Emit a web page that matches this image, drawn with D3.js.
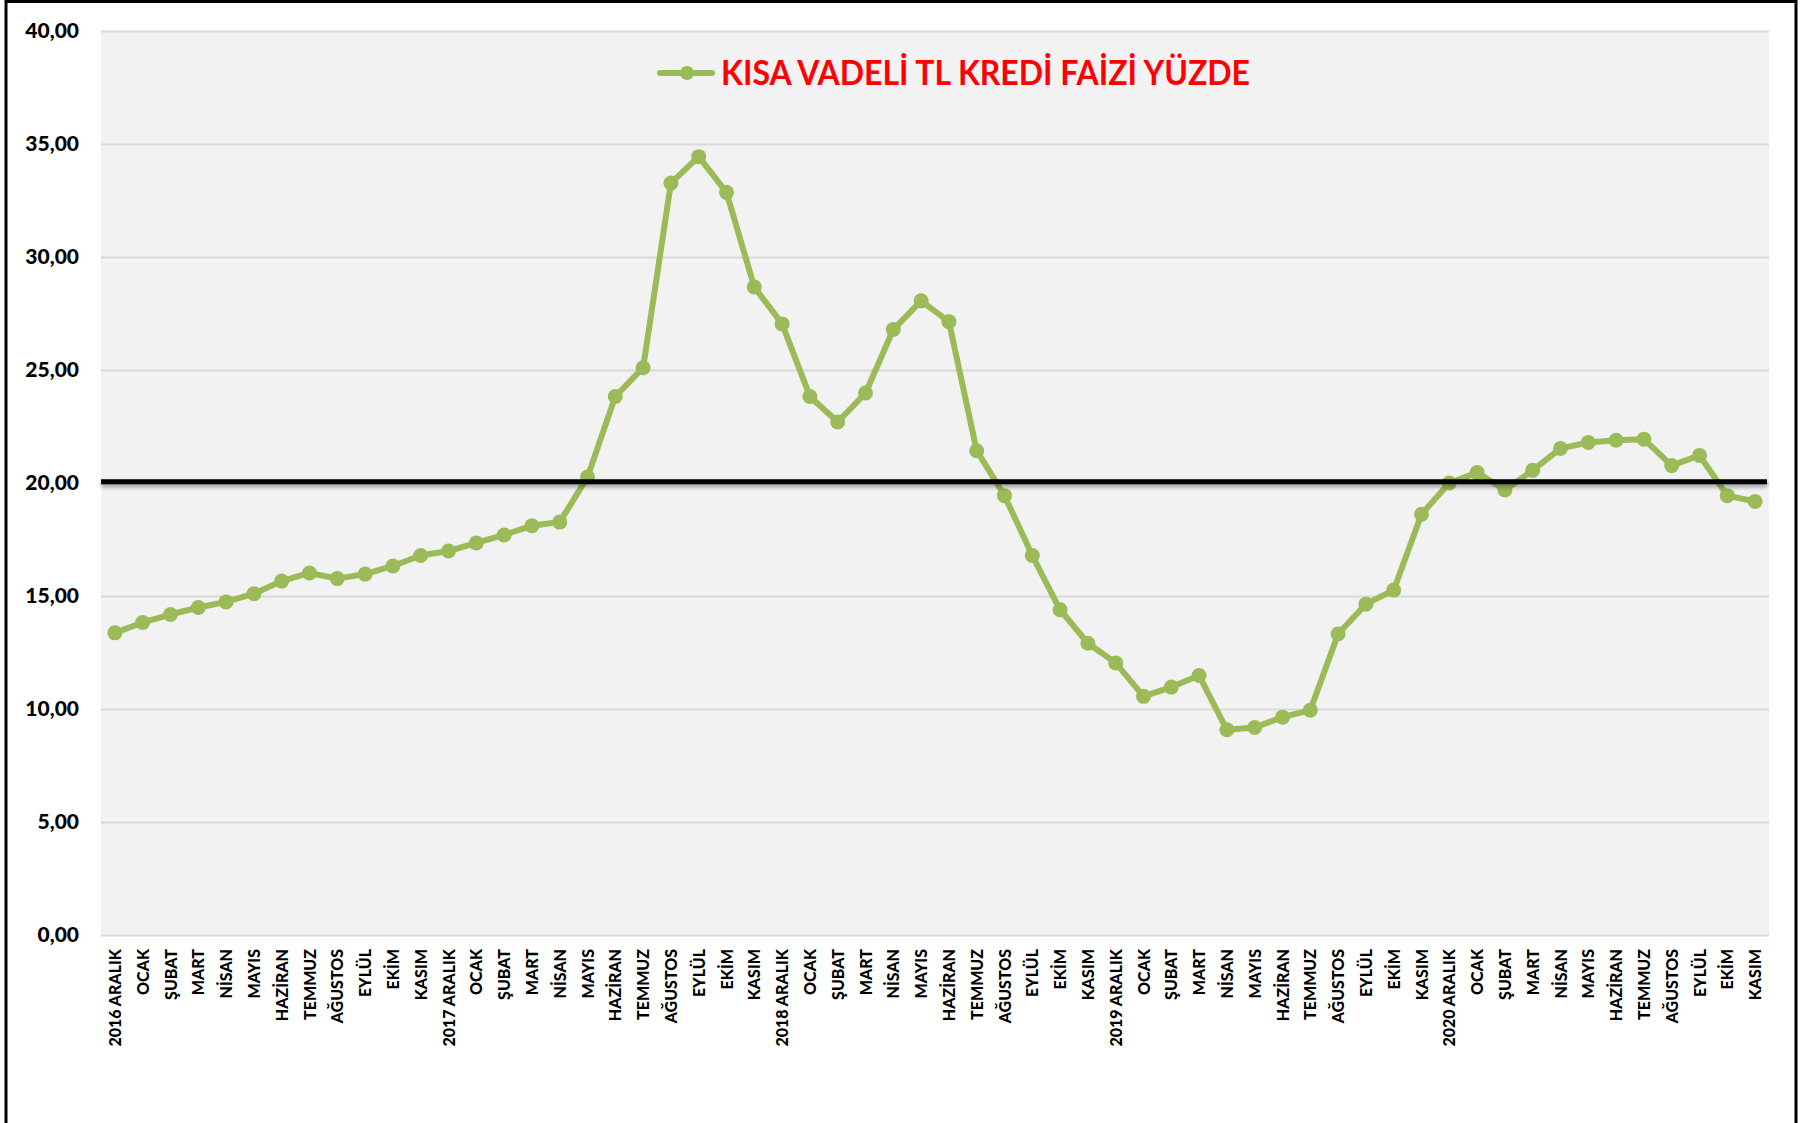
<!DOCTYPE html>
<html>
<head>
<meta charset="utf-8">
<script src="https://cdn.jsdelivr.net/npm/d3@7"></script>
<style>
  body { margin: 0; background: #ffffff; }
</style>
</head>
<body>
<div class="chart"></div>
<script>
// months, as on the x axis
var months = ["2016 ARALIK", "OCAK", "ŞUBAT", "MART", "NİSAN", "MAYIS", "HAZİRAN", "TEMMUZ", "AĞUSTOS", "EYLÜL", "EKİM", "KASIM",
    "2017 ARALIK", "OCAK", "ŞUBAT", "MART", "NİSAN", "MAYIS", "HAZİRAN", "TEMMUZ", "AĞUSTOS", "EYLÜL", "EKİM", "KASIM",
    "2018 ARALIK", "OCAK", "ŞUBAT", "MART", "NİSAN", "MAYIS", "HAZİRAN", "TEMMUZ", "AĞUSTOS", "EYLÜL", "EKİM", "KASIM",
    "2019 ARALIK", "OCAK", "ŞUBAT", "MART", "NİSAN", "MAYIS", "HAZİRAN", "TEMMUZ", "AĞUSTOS", "EYLÜL", "EKİM", "KASIM",
    "2020 ARALIK", "OCAK", "ŞUBAT", "MART", "NİSAN", "MAYIS", "HAZİRAN", "TEMMUZ", "AĞUSTOS", "EYLÜL", "EKİM", "KASIM"];

// short term TL loan rate, percent
var rates = [13.37, 13.83, 14.18, 14.49, 14.74, 15.10, 15.66, 16.02, 15.77, 15.97, 16.33, 16.79,
    16.99, 17.35, 17.70, 18.11, 18.27, 20.26, 23.83, 25.10, 33.27, 34.44, 32.86, 28.67,
    27.04, 23.83, 22.70, 23.98, 26.79, 28.06, 27.14, 21.43, 19.44, 16.79, 14.39, 12.91,
    12.04, 10.56, 10.97, 11.48, 9.08, 9.18, 9.64, 9.95, 13.32, 14.64, 15.26, 18.62,
    20.00, 20.46, 19.69, 20.56, 21.53, 21.79, 21.89, 21.94, 20.77, 21.22, 19.44, 19.18];

var yTicks = [0, 5, 10, 15, 20, 25, 30, 35, 40];
var refLevel = 20.05;
var seriesName = "KISA VADELİ TL KREDİ FAİZİ YÜZDE";

var svgWidth = 1810;
var svgHeight = 1123;
var fontFamily = "Lato, 'Open Sans', sans-serif";

var plot = { left: 101, right: 1769, top: 31, bottom: 935 };

var svg = d3.select(".chart")
    .append("svg")
    .attr("width", svgWidth)
    .attr("height", svgHeight)
    .style("font-family", fontFamily);

// soft shadow under the black line
var defs = svg.append("defs");
var shadow = defs.append("filter")
    .attr("id", "shadow")
    .attr("filterUnits", "userSpaceOnUse")
    .attr("x", 0).attr("y", 0)
    .attr("width", svgWidth).attr("height", svgHeight);
shadow.append("feDropShadow")
    .attr("dx", 0).attr("dy", 3)
    .attr("stdDeviation", 2)
    .attr("flood-color", "#000")
    .attr("flood-opacity", 0.35);

// outer frame (bottom edge runs off the page)
svg.append("rect")
    .attr("x", 6).attr("y", 1.5)
    .attr("width", 1790).attr("height", 1140)
    .attr("fill", "none")
    .attr("stroke", "#000")
    .attr("stroke-width", 3);

// plot area
svg.append("rect")
    .attr("x", plot.left).attr("y", plot.top)
    .attr("width", plot.right - plot.left)
    .attr("height", plot.bottom - plot.top)
    .attr("fill", "#f2f2f2");

var xScale = d3.scalePoint()
    .domain(d3.range(months.length))
    .range([plot.left, plot.right])
    .padding(0.5);

var yScale = d3.scaleLinear()
    .domain([0, 40])
    .range([plot.bottom, plot.top]);

var fmt = function (d) { return d3.format(".2f")(d).replace(".", ","); };

// gridlines + y labels
var leftAxis = d3.axisLeft(yScale)
    .tickValues(yTicks)
    .tickSize(-(plot.right - plot.left))
    .tickPadding(22)
    .tickFormat(fmt);

var yAxis = svg.append("g")
    .attr("transform", `translate(${plot.left}, 0)`)
    .call(leftAxis)
    .attr("font-family", fontFamily);
yAxis.select(".domain").remove();
yAxis.selectAll(".tick line")
    .attr("stroke", "#d9d9d9")
    .attr("stroke-width", 2);
yAxis.selectAll(".tick text")
    .attr("fill", "#000")
    .attr("font-size", "21px")
    .attr("font-weight", "900");

// x labels, rotated
var bottomAxis = d3.axisBottom(xScale)
    .tickSize(0)
    .tickFormat(function (i) { return months[i]; });

var xAxis = svg.append("g")
    .attr("transform", `translate(0, ${plot.bottom})`)
    .call(bottomAxis)
    .attr("font-family", fontFamily);
xAxis.select(".domain").remove();
xAxis.selectAll(".tick text")
    .attr("transform", "rotate(-90)")
    .attr("text-anchor", "end")
    .attr("x", -14)
    .attr("y", 0)
    .attr("dy", "0.35em")
    .attr("fill", "#000")
    .attr("font-size", "16px")
    .attr("font-weight", "900");

// series
var line = d3.line()
    .x(function (d, i) { return xScale(i); })
    .y(function (d) { return yScale(d); });

svg.append("path")
    .datum(rates)
    .attr("d", line)
    .attr("fill", "none")
    .attr("stroke", "#9bbb59")
    .attr("stroke-width", 6)
    .attr("stroke-linejoin", "round");

svg.selectAll("circle.pt")
    .data(rates)
    .enter()
    .append("circle")
    .attr("class", "pt")
    .attr("cx", function (d, i) { return xScale(i); })
    .attr("cy", function (d) { return yScale(d); })
    .attr("r", 7.5)
    .attr("fill", "#9bbb59");

// black reference line at 20
svg.append("line")
    .attr("x1", plot.left).attr("x2", plot.right - 2)
    .attr("y1", yScale(refLevel)).attr("y2", yScale(refLevel))
    .attr("stroke", "#000")
    .attr("stroke-width", 5)
    .attr("filter", "url(#shadow)");

// legend
var legend = svg.append("g").attr("transform", "translate(660, 73)");
legend.append("line")
    .attr("x1", 0).attr("x2", 52)
    .attr("y1", 0).attr("y2", 0)
    .attr("stroke", "#9bbb59")
    .attr("stroke-width", 6)
    .attr("stroke-linecap", "round");
legend.append("circle")
    .attr("cx", 27).attr("cy", 0)
    .attr("r", 7)
    .attr("fill", "#9bbb59");
legend.append("text")
    .attr("x", 61)
    .attr("y", 0)
    .attr("dy", "0.36em")
    .attr("fill", "#ff0000")
    .attr("font-size", "34px")
    .attr("font-weight", "bold")
    .attr("textLength", 529)
    .attr("lengthAdjust", "spacingAndGlyphs")
    .text(seriesName);
</script>
</body>
</html>
